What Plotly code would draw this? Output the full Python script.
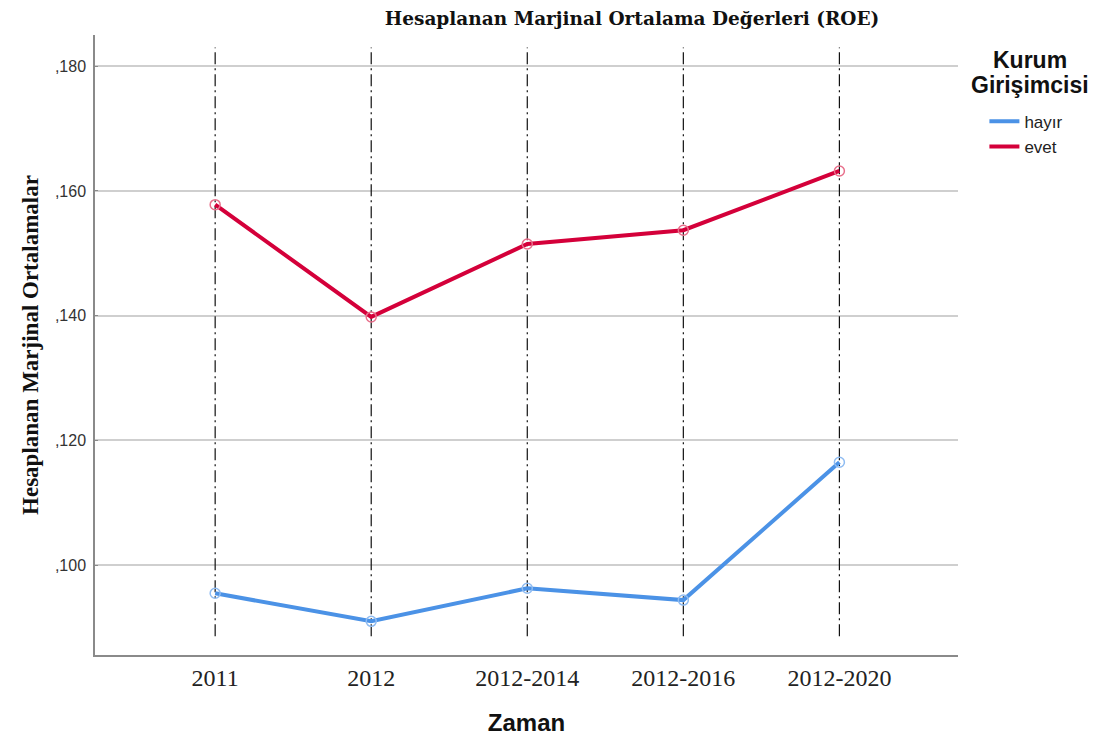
import plotly.graph_objects as go

categories = ["2011", "2012", "2012-2014", "2012-2016", "2012-2020"]
hayir = [0.0955, 0.0910, 0.0963, 0.0944, 0.1165]
evet = [0.1578, 0.1398, 0.1515, 0.1537, 0.1632]
tick_vals = [0.100, 0.120, 0.140, 0.160, 0.180]
tick_text = [",100", ",120", ",140", ",160", ",180"]
ref_low, ref_high = 0.0886, 0.1830

blue = "#4b92e6"
red = "#d4003a"

fig = go.Figure()

# vertical dash-dot reference lines at each category
for c in categories:
    fig.add_trace(go.Scatter(
        x=[c, c], y=[ref_low, ref_high], mode="lines",
        line=dict(color="#111111", width=1.2, dash="12px,4px,2px,4px"),
        showlegend=False, hoverinfo="skip"))

for name, vals, col, mcol in [("hayır", hayir, blue, "#8fbcf2"), ("evet", evet, red, "#e8708c")]:
    fig.add_trace(go.Scatter(
        x=categories, y=vals, mode="lines", name=name,
        line=dict(color=col, width=4)))
    fig.add_trace(go.Scatter(
        x=categories, y=vals, mode="markers", showlegend=False,
        marker=dict(symbol="circle-open", size=10, color=mcol, line=dict(width=1.5))))

fig.update_layout(
    width=1104, height=742,
    paper_bgcolor="white", plot_bgcolor="white",
    margin=dict(l=87, r=154, t=27, b=95),
    title=dict(text="<b>Hesaplanan Marjinal Ortalama Değerleri (ROE)</b>",
               x=624 / 1104, xanchor="center", y=1 - 11 / 742, yanchor="middle",
               font=dict(family="DejaVu Serif", size=18.5, color="#111111")),
    legend=dict(
        x=1.0306, xanchor="left", y=0.889, yanchor="top",
        font=dict(family="Liberation Sans", size=17, color="#222222"),
        traceorder="normal", itemwidth=30, bgcolor="rgba(0,0,0,0)"),
    showlegend=True,
    annotations=[
        dict(text="<b>Kurum</b>", xref="paper", yref="paper",
             x=1.0834, y=0.9597, xanchor="center", yanchor="middle",
             showarrow=False,
             font=dict(family="Liberation Sans", size=23, color="#111111")),
        dict(text="<b>Girişimcisi</b>", xref="paper", yref="paper",
             x=1.0834, y=0.919, xanchor="center", yanchor="middle",
             showarrow=False,
             font=dict(family="Liberation Sans", size=23, color="#111111")),
    ],
)

fig.update_xaxes(
    type="category", categoryorder="array", categoryarray=categories,
    range=[-0.77, 4.76],
    showgrid=False, showline=True, linecolor="#8a8a8a", linewidth=1.5,
    ticks="", tickfont=dict(family="Liberation Serif", size=24, color="#222222"),
    title=dict(text="<b>Zaman</b>", standoff=25,
               font=dict(family="Liberation Sans", size=24, color="#111111")),
    zeroline=False)

fig.update_yaxes(
    range=[0.0856, 0.185],
    tickvals=tick_vals, ticktext=tick_text,
    showgrid=True, gridcolor="#cfcfcf", gridwidth=1.5,
    showline=True, linecolor="#8a8a8a", linewidth=1.5,
    ticks="inside", ticklen=3, tickcolor="#8a8a8a",
    ticklabelstandoff=4,
    tickfont=dict(family="Liberation Sans", size=16, color="#333333"),
    title=dict(text="<b>Hesaplanan Marjinal Ortalamalar</b>", standoff=10,
               font=dict(family="Liberation Serif", size=23, color="#111111")),
    zeroline=False)

fig.write_html("out.html")
